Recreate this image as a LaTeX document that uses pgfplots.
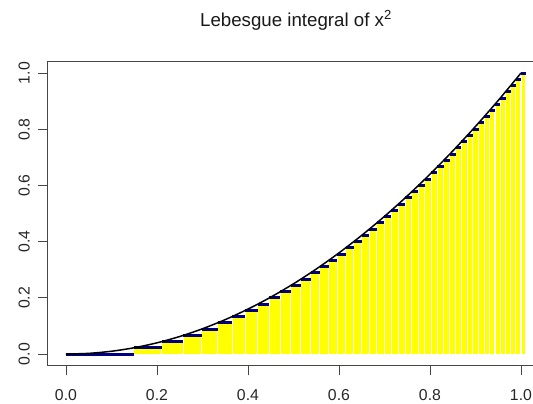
\documentclass[border=0pt]{standalone}
\usepackage{fontspec}
\setmainfont{Liberation Sans}
\usepackage{pgfplots}
\pgfplotsset{compat=1.18}
\definecolor{rnavy}{RGB}{0,0,128}
\definecolor{ryellow}{RGB}{255,255,0}
\definecolor{raxis}{RGB}{70,70,70}
\begin{document}
\begin{tikzpicture}
\begin{axis}[
  scale only axis,
  width=496.8bp, height=303.5bp,
  xmin=-0.0404, xmax=1.0515, ymin=-0.04, ymax=1.04,
  axis line style={raxis, line width=0.8bp},
  tick style={raxis, line width=0.8bp},
  tick align=outside, major tick length=10bp,
  tick pos=left,
  xtick={0,0.2,0.4,0.6,0.8,1}, ytick={0,0.2,0.4,0.6,0.8,1},
  xticklabels={0.0,0.2,0.4,0.6,0.8,1.0},
  yticklabels={0.0,0.2,0.4,0.6,0.8,1.0},
  /pgf/number format/assume math mode=true,
  ticklabel style={font=\fontsize{15.8bp}{18bp}\selectfont, text=black!85},
  xticklabel style={anchor=base, yshift=-25.6bp},
  yticklabel style={xshift=-8bp, rotate=90, anchor=base},
  title={Lebesgue integral of x\textsuperscript{2}},
  title style={at={(0.5,1)}, anchor=base, yshift=29.8bp, font=\fontsize{18.7bp}{22bp}\selectfont, text=black!90},
]
\addplot[ybar interval, fill=ryellow, draw=white, line width=1.1bp] table {
x y
0.00000 0.00000
0.14907 0.02222
0.21082 0.04444
0.25820 0.06667
0.29814 0.08889
0.33333 0.11111
0.36515 0.13333
0.39441 0.15556
0.42164 0.17778
0.44721 0.20000
0.47140 0.22222
0.49441 0.24444
0.51640 0.26667
0.53748 0.28889
0.55777 0.31111
0.57735 0.33333
0.59628 0.35556
0.61464 0.37778
0.63246 0.40000
0.64979 0.42222
0.66667 0.44444
0.68313 0.46667
0.69921 0.48889
0.71492 0.51111
0.73030 0.53333
0.74536 0.55556
0.76012 0.57778
0.77460 0.60000
0.78881 0.62222
0.80277 0.64444
0.81650 0.66667
0.82999 0.68889
0.84327 0.71111
0.85635 0.73333
0.86923 0.75556
0.88192 0.77778
0.89443 0.80000
0.90676 0.82222
0.91894 0.84444
0.93095 0.86667
0.94281 0.88889
0.95452 0.91111
0.96609 0.93333
0.97753 0.95556
0.98883 0.97778
1.00000 1.00000
1.01105 1.00000
};
\addplot[jump mark left, rnavy, line width=3bp, mark=none] table {
x y
0.00000 0.00000
0.14907 0.02222
0.21082 0.04444
0.25820 0.06667
0.29814 0.08889
0.33333 0.11111
0.36515 0.13333
0.39441 0.15556
0.42164 0.17778
0.44721 0.20000
0.47140 0.22222
0.49441 0.24444
0.51640 0.26667
0.53748 0.28889
0.55777 0.31111
0.57735 0.33333
0.59628 0.35556
0.61464 0.37778
0.63246 0.40000
0.64979 0.42222
0.66667 0.44444
0.68313 0.46667
0.69921 0.48889
0.71492 0.51111
0.73030 0.53333
0.74536 0.55556
0.76012 0.57778
0.77460 0.60000
0.78881 0.62222
0.80277 0.64444
0.81650 0.66667
0.82999 0.68889
0.84327 0.71111
0.85635 0.73333
0.86923 0.75556
0.88192 0.77778
0.89443 0.80000
0.90676 0.82222
0.91894 0.84444
0.93095 0.86667
0.94281 0.88889
0.95452 0.91111
0.96609 0.93333
0.97753 0.95556
0.98883 0.97778
1.00000 1.00000
1.01105 1.00000
};
\addplot[black, line width=1.5bp, smooth, mark=none] coordinates {
(0,0) (0.05,0.0025) (0.1,0.01) (0.15,0.0225) (0.2,0.04) (0.25,0.0625)
(0.3,0.09) (0.35,0.1225) (0.4,0.16) (0.45,0.2025) (0.5,0.25)
(0.55,0.3025) (0.6,0.36) (0.65,0.4225) (0.7,0.49) (0.75,0.5625)
(0.8,0.64) (0.85,0.7225) (0.9,0.81) (0.95,0.9025) (1,1)
};
\end{axis}
\pgfresetboundingbox
\path[use as bounding box] ([shift={(-47.6bp,-37.8bp)}]current axis.south west) rectangle ([shift={(485.4bp,61.8bp)}]current axis.north west);
\end{tikzpicture}
\end{document}
